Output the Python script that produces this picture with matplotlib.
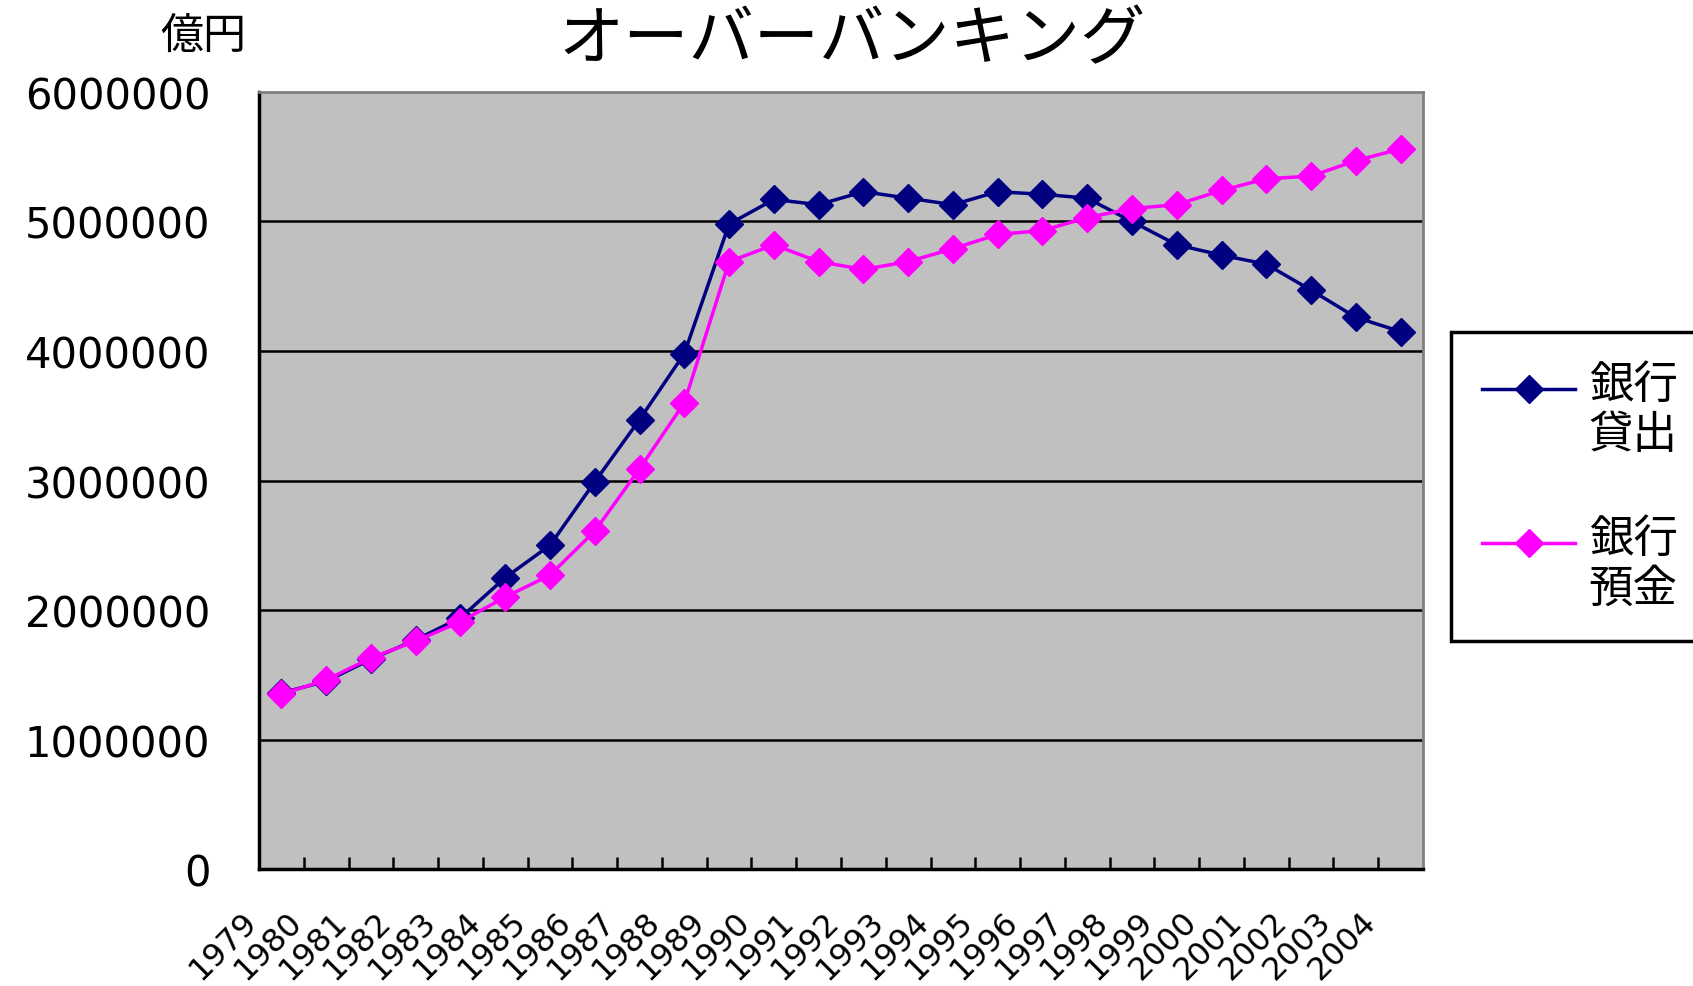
import matplotlib
matplotlib.use('Agg')
import matplotlib.pyplot as plt
import matplotlib.ticker as ticker
import matplotlib.transforms as mtransforms
import numpy as np

# digits in DejaVu, Japanese falls through to Noto CJK
plt.rcParams['font.family'] = ['DejaVu Sans', 'Noto Sans CJK JP']

# data (unit: 億円)
years = ['1979', '1980', '1981', '1982', '1983', '1984', '1985', '1986', '1987',
         '1988', '1989', '1990', '1991', '1992', '1993', '1994', '1995', '1996',
         '1997', '1998', '1999', '2000', '2001', '2002', '2003', '2004']
loans = [1360000, 1450000, 1620000, 1770000, 1940000, 2250000, 2500000, 2990000,
         3470000, 3980000, 4980000, 5170000, 5130000, 5230000, 5180000, 5130000,
         5230000, 5210000, 5180000, 5000000, 4820000, 4740000, 4670000, 4470000,
         4260000, 4150000]
deposits = [1350000, 1460000, 1630000, 1760000, 1910000, 2100000, 2270000, 2610000,
            3090000, 3600000, 4690000, 4820000, 4690000, 4630000, 4690000, 4790000,
            4900000, 4930000, 5030000, 5100000, 5130000, 5240000, 5330000, 5350000,
            5470000, 5560000]
labels = ['銀行\n貸出', '銀行\n預金']
colors = ['#000080', '#FF00FF']

fig = plt.figure(figsize=(16.93, 9.87), dpi=100)
ax = fig.add_axes([0.153, 0.1185, 0.6875, 0.7873])
ax.set_facecolor('#C0C0C0')

x = np.arange(len(years))
for vals, lab, col in zip([loans, deposits], labels, colors):
    ax.plot(x, vals, color=col, lw=2.5, marker='D', ms=14, mec=col, mfc=col, label=lab)

ax.set_xlim(-0.5, len(years) - 0.5)
ax.set_ylim(0, 6000000)
ax.set_yticks(np.arange(0, 6000001, 1000000))
ax.yaxis.set_major_formatter(ticker.FuncFormatter(lambda v, p: '%d' % v))
ax.set_xticks(x)
ax.set_xticklabels(years, rotation=45, ha='right', va='top', rotation_mode='anchor', fontsize=23)
ax.set_xticks(np.arange(0.5, len(years) - 0.5, 1), minor=True)

ax.tick_params(axis='y', length=0, pad=35, labelsize=30)
ax.tick_params(axis='x', which='major', length=0, pad=26)
ax.tick_params(axis='x', which='minor', direction='in', length=9, width=1.8, color='black')

# shift rotated year labels to the left like the original
shift = mtransforms.ScaledTranslation(-0.40, 0, fig.dpi_scale_trans)
for lbl in ax.get_xticklabels():
    lbl.set_transform(lbl.get_transform() + shift)

ax.yaxis.grid(True, color='black', linewidth=1.8)
ax.set_axisbelow(True)
gl = ax.get_ygridlines()
gl[0].set_visible(False)
gl[-1].set_visible(False)

for side in ['left', 'bottom']:
    ax.spines[side].set_color('black')
    ax.spines[side].set_linewidth(2.5)
for side in ['top', 'right']:
    ax.spines[side].set_color('#808080')
    ax.spines[side].set_linewidth(2)

fig.text(0.503, 0.958, 'オーバーバンキング', fontsize=47, ha='center', va='center')
fig.text(0.12, 0.963, '億円', fontsize=31, ha='center', va='center')

leg = ax.legend(loc='upper left', bbox_to_anchor=(0.857, 0.3465, 0.22, 0.316),
                bbox_transform=fig.transFigure, mode='expand', fontsize=32,
                fancybox=False, edgecolor='black', framealpha=1, borderpad=0.7,
                labelspacing=1.38, handlelength=2.1, handletextpad=0.3, borderaxespad=0)
leg.get_frame().set_linewidth(2.5)
# the original puts the key beside the first line of each label
for h in leg.legend_handles:
    h.set_ydata(np.asarray(h.get_ydata()) + 16)

fig.savefig('out.png', dpi=100)
